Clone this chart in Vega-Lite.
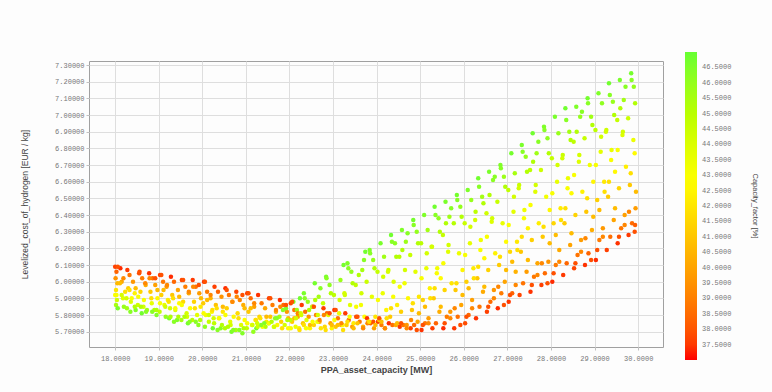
{
"$schema":"https://vega.github.io/schema/vega-lite/v6.json",
"width":574,"height":286,
"autosize":{"type":"none"},
"padding":{"left":89,"top":61,"right":109,"bottom":45},
"background":"#fdfdfd",
"config":{
 "view":{"stroke":"#a0a0a0","strokeWidth":1},
 "axis":{"gridColor":"#dedede","gridWidth":1,"domain":false,"tickColor":"#c0c0c0","tickSize":3,"labelFont":"Liberation Mono","labelFontSize":7,"labelColor":"#777777","titleFont":"Liberation Sans","titleColor":"#444444"}
},
"data":{"values":[
{"x":18.00,"y":6.09,"c":37.6},{"x":18.03,"y":6.06,"c":38.3},{"x":18.01,"y":6.02,"c":39.5},{"x":18.05,"y":5.99,"c":40.6},{"x":18.02,"y":5.95,"c":41.9},{"x":18.00,"y":5.92,"c":43.0},{"x":18.04,"y":5.89,"c":44.3},{"x":18.02,"y":5.86,"c":45.5},{"x":18.06,"y":5.84,"c":46.6},{"x":18.12,"y":6.08,"c":37.3},{"x":18.15,"y":6.00,"c":40.1},{"x":18.18,"y":5.90,"c":43.8},{"x":18.20,"y":5.85,"c":45.9},
{"x":18.28,"y":6.07,"c":37.5},{"x":18.33,"y":6.04,"c":38.7},{"x":18.41,"y":6.00,"c":39.6},{"x":18.30,"y":5.96,"c":41.2},{"x":18.45,"y":5.93,"c":42.4},{"x":18.36,"y":5.88,"c":44.0},{"x":18.27,"y":5.84,"c":45.7},{"x":18.47,"y":5.83,"c":46.5},
{"x":18.55,"y":6.05,"c":37.8},{"x":18.62,"y":6.02,"c":38.9},{"x":18.70,"y":5.98,"c":40.3},{"x":18.58,"y":5.94,"c":41.5},{"x":18.66,"y":5.89,"c":43.1},{"x":18.52,"y":5.86,"c":44.4},{"x":18.73,"y":5.83,"c":45.6},{"x":18.61,"y":5.81,"c":46.8},
{"x":18.78,"y":6.05,"c":37.4},{"x":18.86,"y":6.02,"c":38.5},{"x":18.92,"y":5.98,"c":39.9},{"x":18.81,"y":5.94,"c":41.1},{"x":18.97,"y":5.90,"c":42.6},{"x":18.84,"y":5.87,"c":43.6},{"x":18.90,"y":5.83,"c":45.1},{"x":18.95,"y":5.80,"c":46.4},
{"x":19.03,"y":6.04,"c":37.6},{"x":19.10,"y":6.00,"c":38.8},{"x":19.18,"y":5.97,"c":39.7},{"x":19.06,"y":5.92,"c":41.3},{"x":19.21,"y":5.89,"c":42.3},{"x":19.13,"y":5.86,"c":43.5},{"x":19.02,"y":5.82,"c":44.8},{"x":19.16,"y":5.79,"c":46.0},{"x":19.24,"y":5.78,"c":46.6},
{"x":19.28,"y":6.03,"c":37.3},{"x":19.35,"y":6.00,"c":38.4},{"x":19.44,"y":5.95,"c":40.0},{"x":19.31,"y":5.92,"c":41.0},{"x":19.47,"y":5.87,"c":42.7},{"x":19.38,"y":5.83,"c":43.9},{"x":19.27,"y":5.79,"c":45.3},{"x":19.42,"y":5.77,"c":46.5},
{"x":19.53,"y":6.01,"c":37.7},{"x":19.61,"y":5.97,"c":39.0},{"x":19.69,"y":5.93,"c":40.2},{"x":19.56,"y":5.88,"c":41.6},{"x":19.72,"y":5.84,"c":42.9},{"x":19.64,"y":5.81,"c":44.2},{"x":19.52,"y":5.77,"c":45.5},{"x":19.67,"y":5.75,"c":46.7},
{"x":19.78,"y":6.01,"c":37.5},{"x":19.85,"y":5.97,"c":38.6},{"x":19.93,"y":5.93,"c":39.8},{"x":19.81,"y":5.88,"c":41.4},{"x":19.96,"y":5.85,"c":42.2},{"x":19.88,"y":5.80,"c":43.7},{"x":19.77,"y":5.77,"c":45.0},{"x":19.91,"y":5.74,"c":46.2},
{"x":20.04,"y":6.00,"c":37.4},{"x":20.11,"y":5.94,"c":38.9},{"x":20.19,"y":5.90,"c":40.4},{"x":20.02,"y":5.87,"c":41.2},{"x":20.22,"y":5.82,"c":42.5},{"x":20.08,"y":5.80,"c":43.3},{"x":20.15,"y":5.76,"c":44.7},{"x":20.06,"y":5.73,"c":46.1},{"x":20.24,"y":5.72,"c":46.8},
{"x":20.28,"y":5.97,"c":37.6},{"x":20.36,"y":5.94,"c":38.3},{"x":20.44,"y":5.91,"c":39.5},{"x":20.31,"y":5.86,"c":40.9},{"x":20.47,"y":5.82,"c":42.0},{"x":20.39,"y":5.78,"c":43.5},{"x":20.27,"y":5.75,"c":44.9},{"x":20.42,"y":5.72,"c":46.3},
{"x":20.53,"y":5.96,"c":37.3},{"x":20.61,"y":5.92,"c":38.7},{"x":20.69,"y":5.88,"c":40.0},{"x":20.56,"y":5.84,"c":41.3},{"x":20.72,"y":5.79,"c":42.6},{"x":20.64,"y":5.76,"c":43.8},{"x":20.52,"y":5.72,"c":45.2},{"x":20.67,"y":5.70,"c":46.6},
{"x":20.78,"y":5.94,"c":37.7},{"x":20.86,"y":5.89,"c":39.1},{"x":20.94,"y":5.86,"c":40.3},{"x":20.81,"y":5.81,"c":41.7},{"x":20.97,"y":5.77,"c":42.8},{"x":20.89,"y":5.74,"c":44.0},{"x":20.77,"y":5.71,"c":45.4},{"x":20.92,"y":5.69,"c":46.4},
{"x":21.03,"y":5.93,"c":37.5},{"x":21.11,"y":5.90,"c":38.5},{"x":21.19,"y":5.85,"c":39.9},{"x":21.06,"y":5.82,"c":41.1},{"x":21.22,"y":5.77,"c":42.4},{"x":21.14,"y":5.74,"c":43.6},{"x":21.02,"y":5.72,"c":44.8},{"x":21.17,"y":5.70,"c":46.0},{"x":21.24,"y":5.72,"c":46.7},
{"x":21.28,"y":5.92,"c":37.4},{"x":21.36,"y":5.87,"c":38.8},{"x":21.44,"y":5.84,"c":40.1},{"x":21.31,"y":5.79,"c":41.5},{"x":21.47,"y":5.76,"c":42.1},{"x":21.39,"y":5.74,"c":43.2},{"x":21.27,"y":5.73,"c":44.5},{"x":21.42,"y":5.75,"c":46.5},
{"x":21.53,"y":5.90,"c":37.6},{"x":21.61,"y":5.86,"c":38.9},{"x":21.69,"y":5.82,"c":40.4},{"x":21.56,"y":5.79,"c":41.0},{"x":21.72,"y":5.74,"c":42.5},{"x":21.64,"y":5.73,"c":43.7},{"x":21.52,"y":5.75,"c":45.3},{"x":21.67,"y":5.78,"c":46.2},
{"x":21.78,"y":5.89,"c":37.3},{"x":21.86,"y":5.86,"c":38.4},{"x":21.94,"y":5.82,"c":39.7},{"x":21.81,"y":5.76,"c":41.4},{"x":21.97,"y":5.72,"c":42.7},{"x":21.89,"y":5.74,"c":44.1},{"x":21.77,"y":5.79,"c":45.6},{"x":21.92,"y":5.84,"c":46.6},
{"x":22.03,"y":5.87,"c":37.7},{"x":22.11,"y":5.83,"c":38.8},{"x":22.19,"y":5.79,"c":40.0},{"x":22.06,"y":5.76,"c":41.2},{"x":22.22,"y":5.72,"c":42.3},{"x":22.14,"y":5.73,"c":43.4},{"x":22.02,"y":5.77,"c":44.7},{"x":22.17,"y":5.83,"c":45.7},{"x":22.09,"y":5.88,"c":46.5},{"x":22.24,"y":5.90,"c":46.8},
{"x":22.28,"y":5.86,"c":37.5},{"x":22.36,"y":5.82,"c":38.6},{"x":22.44,"y":5.79,"c":39.6},{"x":22.31,"y":5.75,"c":41.0},{"x":22.47,"y":5.72,"c":42.6},{"x":22.39,"y":5.77,"c":43.9},{"x":22.27,"y":5.80,"c":44.4},{"x":22.42,"y":5.88,"c":45.9},{"x":22.33,"y":5.93,"c":46.6},
{"x":22.53,"y":5.85,"c":37.4},{"x":22.61,"y":5.80,"c":38.9},{"x":22.69,"y":5.76,"c":40.2},{"x":22.56,"y":5.74,"c":41.4},{"x":22.72,"y":5.72,"c":42.0},{"x":22.64,"y":5.76,"c":43.3},{"x":22.52,"y":5.85,"c":44.9},{"x":22.67,"y":5.91,"c":45.6},{"x":22.58,"y":5.99,"c":46.7},
{"x":22.78,"y":5.84,"c":37.6},{"x":22.86,"y":5.81,"c":38.3},{"x":22.94,"y":5.75,"c":39.9},{"x":22.81,"y":5.73,"c":41.6},{"x":22.97,"y":5.72,"c":42.4},{"x":22.89,"y":5.80,"c":43.7},{"x":22.77,"y":5.87,"c":44.6},{"x":22.92,"y":5.98,"c":46.1},{"x":22.84,"y":6.03,"c":46.6},
{"x":23.03,"y":5.83,"c":37.3},{"x":23.11,"y":5.78,"c":38.7},{"x":23.19,"y":5.74,"c":40.1},{"x":23.06,"y":5.73,"c":41.1},{"x":23.22,"y":5.74,"c":42.6},{"x":23.14,"y":5.81,"c":43.5},{"x":23.02,"y":5.92,"c":44.9},{"x":23.17,"y":6.01,"c":45.8},{"x":23.24,"y":6.10,"c":46.7},
{"x":23.28,"y":5.81,"c":37.5},{"x":23.36,"y":5.77,"c":38.5},{"x":23.44,"y":5.73,"c":39.7},{"x":23.31,"y":5.74,"c":41.3},{"x":23.47,"y":5.75,"c":42.2},{"x":23.39,"y":5.86,"c":43.8},{"x":23.27,"y":5.92,"c":44.3},{"x":23.42,"y":6.06,"c":46.0},{"x":23.33,"y":6.11,"c":46.5},
{"x":23.53,"y":5.79,"c":37.8},{"x":23.61,"y":5.76,"c":38.8},{"x":23.69,"y":5.73,"c":40.3},{"x":23.56,"y":5.75,"c":41.0},{"x":23.72,"y":5.79,"c":42.7},{"x":23.64,"y":5.86,"c":43.2},{"x":23.52,"y":5.98,"c":44.8},{"x":23.67,"y":6.07,"c":45.5},{"x":23.74,"y":6.18,"c":46.8},
{"x":23.78,"y":5.78,"c":37.4},{"x":23.86,"y":5.75,"c":38.4},{"x":23.94,"y":5.72,"c":39.9},{"x":23.81,"y":5.76,"c":41.5},{"x":23.97,"y":5.79,"c":42.0},{"x":23.89,"y":5.91,"c":43.6},{"x":23.77,"y":6.00,"c":44.5},{"x":23.92,"y":6.13,"c":45.9},{"x":23.84,"y":6.19,"c":46.5},
{"x":24.03,"y":5.76,"c":37.6},{"x":24.11,"y":5.74,"c":38.9},{"x":24.19,"y":5.72,"c":40.0},{"x":24.06,"y":5.77,"c":41.2},{"x":24.22,"y":5.83,"c":42.5},{"x":24.14,"y":5.93,"c":43.4},{"x":24.02,"y":6.06,"c":44.7},{"x":24.17,"y":6.15,"c":45.7},{"x":24.09,"y":6.23,"c":46.6},
{"x":24.28,"y":5.75,"c":37.3},{"x":24.36,"y":5.74,"c":38.6},{"x":24.44,"y":5.74,"c":40.2},{"x":24.31,"y":5.79,"c":41.1},{"x":24.47,"y":5.86,"c":42.3},{"x":24.39,"y":6.00,"c":43.9},{"x":24.27,"y":6.07,"c":44.4},{"x":24.42,"y":6.23,"c":46.2},{"x":24.33,"y":6.28,"c":46.8},
{"x":24.53,"y":5.73,"c":37.5},{"x":24.61,"y":5.74,"c":38.8},{"x":24.69,"y":5.74,"c":39.6},{"x":24.56,"y":5.82,"c":41.3},{"x":24.72,"y":5.90,"c":42.6},{"x":24.64,"y":5.99,"c":43.3},{"x":24.52,"y":6.15,"c":45.0},{"x":24.67,"y":6.24,"c":45.8},{"x":24.58,"y":6.31,"c":46.5},
{"x":24.78,"y":5.72,"c":37.7},{"x":24.86,"y":5.74,"c":38.5},{"x":24.94,"y":5.76,"c":40.1},{"x":24.81,"y":5.83,"c":41.0},{"x":24.97,"y":5.91,"c":42.1},{"x":24.89,"y":6.06,"c":43.7},{"x":24.77,"y":6.16,"c":44.6},{"x":24.92,"y":6.30,"c":46.0},{"x":24.84,"y":6.37,"c":46.7},
{"x":25.03,"y":5.71,"c":37.4},{"x":25.11,"y":5.75,"c":38.7},{"x":25.19,"y":5.78,"c":39.8},{"x":25.06,"y":5.89,"c":41.4},{"x":25.22,"y":5.96,"c":42.4},{"x":25.14,"y":6.08,"c":43.5},{"x":25.02,"y":6.23,"c":44.9},{"x":25.17,"y":6.31,"c":45.6},{"x":25.09,"y":6.40,"c":46.5},
{"x":25.28,"y":5.72,"c":37.6},{"x":25.36,"y":5.75,"c":38.3},{"x":25.44,"y":5.82,"c":40.3},{"x":25.31,"y":5.90,"c":41.2},{"x":25.47,"y":6.02,"c":42.7},{"x":25.39,"y":6.08,"c":43.2},{"x":25.27,"y":6.21,"c":44.4},{"x":25.42,"y":6.38,"c":46.1},{"x":25.33,"y":6.45,"c":46.8},
{"x":25.53,"y":5.72,"c":37.3},{"x":25.61,"y":5.79,"c":38.9},{"x":25.69,"y":5.82,"c":39.7},{"x":25.56,"y":5.95,"c":41.5},{"x":25.72,"y":5.99,"c":42.0},{"x":25.64,"y":6.18,"c":43.8},{"x":25.52,"y":6.28,"c":44.7},{"x":25.67,"y":6.39,"c":45.7},{"x":25.58,"y":6.48,"c":46.6},
{"x":25.78,"y":5.72,"c":37.5},{"x":25.86,"y":5.79,"c":38.6},{"x":25.94,"y":5.86,"c":40.0},{"x":25.81,"y":5.95,"c":41.1},{"x":25.97,"y":6.07,"c":42.5},{"x":25.89,"y":6.17,"c":43.4},{"x":25.77,"y":6.35,"c":45.1},{"x":25.92,"y":6.45,"c":46.0},{"x":25.84,"y":6.52,"c":46.7},
{"x":26.03,"y":5.75,"c":37.8},{"x":26.11,"y":5.80,"c":38.4},{"x":26.19,"y":5.89,"c":39.9},{"x":26.06,"y":6.00,"c":41.3},{"x":26.22,"y":6.08,"c":42.2},{"x":26.14,"y":6.23,"c":43.6},{"x":26.02,"y":6.35,"c":44.5},{"x":26.17,"y":6.49,"c":45.9},{"x":26.09,"y":6.55,"c":46.5},
{"x":26.28,"y":5.78,"c":37.4},{"x":26.36,"y":5.85,"c":38.8},{"x":26.44,"y":5.94,"c":40.2},{"x":26.31,"y":6.02,"c":41.0},{"x":26.47,"y":6.14,"c":42.6},{"x":26.39,"y":6.25,"c":43.3},{"x":26.27,"y":6.42,"c":44.9},{"x":26.42,"y":6.51,"c":45.6},{"x":26.33,"y":6.62,"c":46.8},
{"x":26.53,"y":5.82,"c":37.6},{"x":26.61,"y":5.88,"c":38.5},{"x":26.69,"y":5.95,"c":39.6},{"x":26.56,"y":6.07,"c":41.4},{"x":26.72,"y":6.17,"c":42.4},{"x":26.64,"y":6.36,"c":43.9},{"x":26.52,"y":6.41,"c":44.3},{"x":26.67,"y":6.61,"c":46.2},{"x":26.58,"y":6.66,"c":46.6},
{"x":26.78,"y":5.84,"c":37.3},{"x":26.86,"y":5.93,"c":38.9},{"x":26.94,"y":6.00,"c":40.0},{"x":26.81,"y":6.10,"c":41.2},{"x":26.97,"y":6.24,"c":42.7},{"x":26.89,"y":6.35,"c":43.5},{"x":26.77,"y":6.48,"c":44.6},{"x":26.92,"y":6.63,"c":45.8},{"x":26.84,"y":6.70,"c":46.5},
{"x":27.03,"y":5.88,"c":37.5},{"x":27.11,"y":5.93,"c":38.3},{"x":27.19,"y":6.06,"c":40.4},{"x":27.06,"y":6.18,"c":41.6},{"x":27.22,"y":6.24,"c":42.1},{"x":27.14,"y":6.42,"c":43.7},{"x":27.02,"y":6.55,"c":44.8},{"x":27.17,"y":6.65,"c":45.5},{"x":27.09,"y":6.77,"c":46.7},
{"x":27.28,"y":5.92,"c":37.7},{"x":27.36,"y":5.99,"c":38.7},{"x":27.44,"y":6.06,"c":39.8},{"x":27.31,"y":6.18,"c":41.0},{"x":27.47,"y":6.32,"c":42.5},{"x":27.39,"y":6.43,"c":43.3},{"x":27.27,"y":6.58,"c":44.5},{"x":27.42,"y":6.75,"c":46.0},{"x":27.33,"y":6.82,"c":46.6},
{"x":27.53,"y":5.94,"c":37.4},{"x":27.61,"y":6.03,"c":38.8},{"x":27.69,"y":6.11,"c":40.1},{"x":27.56,"y":6.25,"c":41.3},{"x":27.72,"y":6.35,"c":42.3},{"x":27.64,"y":6.54,"c":43.8},{"x":27.52,"y":6.67,"c":44.9},{"x":27.67,"y":6.77,"c":45.7},{"x":27.58,"y":6.89,"c":46.8},
{"x":27.78,"y":5.98,"c":37.6},{"x":27.86,"y":6.05,"c":38.5},{"x":27.94,"y":6.12,"c":39.6},{"x":27.81,"y":6.27,"c":41.1},{"x":27.97,"y":6.43,"c":42.6},{"x":27.89,"y":6.51,"c":43.2},{"x":27.77,"y":6.67,"c":44.4},{"x":27.92,"y":6.86,"c":46.1},{"x":27.84,"y":6.93,"c":46.5},
{"x":28.03,"y":6.00,"c":37.3},{"x":28.11,"y":6.10,"c":38.9},{"x":28.19,"y":6.19,"c":40.2},{"x":28.06,"y":6.35,"c":41.5},{"x":28.22,"y":6.44,"c":42.2},{"x":28.14,"y":6.60,"c":43.6},{"x":28.02,"y":6.74,"c":44.7},{"x":28.17,"y":6.89,"c":45.9},{"x":28.09,"y":6.99,"c":46.6},
{"x":28.28,"y":6.04,"c":37.5},{"x":28.36,"y":6.11,"c":38.4},{"x":28.44,"y":6.22,"c":40.0},{"x":28.31,"y":6.35,"c":41.2},{"x":28.47,"y":6.53,"c":42.7},{"x":28.39,"y":6.62,"c":43.4},{"x":28.27,"y":6.76,"c":44.5},{"x":28.42,"y":6.90,"c":45.6},{"x":28.33,"y":7.04,"c":46.8},
{"x":28.53,"y":6.08,"c":37.7},{"x":28.61,"y":6.16,"c":38.7},{"x":28.69,"y":6.25,"c":39.8},{"x":28.56,"y":6.40,"c":41.4},{"x":28.72,"y":6.54,"c":42.4},{"x":28.64,"y":6.72,"c":43.9},{"x":28.52,"y":6.84,"c":44.8},{"x":28.67,"y":6.99,"c":46.0},{"x":28.58,"y":7.05,"c":46.5},
{"x":28.78,"y":6.10,"c":37.4},{"x":28.86,"y":6.17,"c":38.3},{"x":28.94,"y":6.31,"c":40.3},{"x":28.81,"y":6.42,"c":41.0},{"x":28.97,"y":6.60,"c":42.5},{"x":28.89,"y":6.70,"c":43.3},{"x":28.77,"y":6.86,"c":44.6},{"x":28.92,"y":6.99,"c":45.7},{"x":28.84,"y":7.10,"c":46.7},
{"x":29.03,"y":6.13,"c":37.3},{"x":29.11,"y":6.25,"c":38.9},{"x":29.19,"y":6.32,"c":39.7},{"x":29.06,"y":6.49,"c":41.3},{"x":29.22,"y":6.60,"c":42.1},{"x":29.14,"y":6.78,"c":43.7},{"x":29.02,"y":6.91,"c":44.9},{"x":29.17,"y":7.07,"c":46.1},{"x":29.09,"y":7.13,"c":46.5},
{"x":29.28,"y":6.19,"c":37.6},{"x":29.36,"y":6.27,"c":38.6},{"x":29.44,"y":6.37,"c":40.0},{"x":29.31,"y":6.51,"c":41.2},{"x":29.47,"y":6.66,"c":42.6},{"x":29.39,"y":6.79,"c":43.5},{"x":29.27,"y":6.91,"c":44.4},{"x":29.42,"y":7.08,"c":45.9},{"x":29.33,"y":7.19,"c":46.8},
{"x":29.53,"y":6.23,"c":37.4},{"x":29.61,"y":6.32,"c":38.8},{"x":29.69,"y":6.40,"c":39.9},{"x":29.56,"y":6.56,"c":41.5},{"x":29.72,"y":6.69,"c":42.3},{"x":29.64,"y":6.88,"c":43.9},{"x":29.52,"y":6.97,"c":44.7},{"x":29.67,"y":7.09,"c":45.6},{"x":29.58,"y":7.21,"c":46.6},
{"x":29.78,"y":6.28,"c":37.5},{"x":29.86,"y":6.35,"c":38.5},{"x":29.94,"y":6.44,"c":39.8},{"x":29.81,"y":6.58,"c":41.1},{"x":29.92,"y":6.77,"c":42.7},{"x":29.89,"y":6.85,"c":43.4},{"x":29.77,"y":6.98,"c":44.5},{"x":29.90,"y":7.17,"c":46.0},{"x":29.84,"y":7.25,"c":46.7},{"x":29.93,"y":6.34,"c":38.2},
{"x":18.06,"y":6.09,"c":37.9},{"x":18.19,"y":6.02,"c":39.2},{"x":18.11,"y":5.99,"c":40.7},{"x":18.23,"y":5.94,"c":41.8},{"x":18.03,"y":5.92,"c":43.0},{"x":18.15,"y":5.92,"c":44.2},
{"x":18.47,"y":5.96,"c":40.7},{"x":18.33,"y":5.95,"c":41.8},{"x":18.38,"y":5.90,"c":43.0},{"x":18.26,"y":5.90,"c":44.2},{"x":18.45,"y":5.85,"c":45.2},{"x":18.35,"y":5.82,"c":46.3},
{"x":18.56,"y":6.06,"c":37.9},{"x":18.69,"y":5.99,"c":39.2},{"x":18.53,"y":5.91,"c":43.0},{"x":18.65,"y":5.85,"c":44.2},{"x":18.59,"y":5.85,"c":45.2},{"x":18.71,"y":5.82,"c":46.3},
{"x":18.92,"y":6.02,"c":37.9},{"x":18.79,"y":6.02,"c":39.2},{"x":18.97,"y":5.95,"c":40.7},{"x":18.83,"y":5.90,"c":41.8},{"x":18.95,"y":5.83,"c":45.2},{"x":18.85,"y":5.82,"c":46.3},
{"x":19.06,"y":6.04,"c":37.9},{"x":19.19,"y":5.98,"c":39.2},{"x":19.11,"y":5.95,"c":40.7},{"x":19.23,"y":5.88,"c":41.8},{"x":19.03,"y":5.87,"c":43.0},{"x":19.15,"y":5.85,"c":44.2},
{"x":19.47,"y":5.91,"c":40.7},{"x":19.33,"y":5.90,"c":41.8},{"x":19.38,"y":5.84,"c":43.0},{"x":19.26,"y":5.84,"c":44.2},{"x":19.45,"y":5.79,"c":45.2},{"x":19.35,"y":5.76,"c":46.3},
{"x":19.56,"y":6.01,"c":37.9},{"x":19.69,"y":5.94,"c":39.2},{"x":19.53,"y":5.86,"c":43.0},{"x":19.65,"y":5.79,"c":44.2},{"x":19.59,"y":5.79,"c":45.2},{"x":19.71,"y":5.76,"c":46.3},
{"x":19.92,"y":5.98,"c":37.9},{"x":19.79,"y":5.97,"c":39.2},{"x":19.97,"y":5.90,"c":40.7},{"x":19.83,"y":5.84,"c":41.8},{"x":19.95,"y":5.77,"c":45.2},{"x":19.85,"y":5.76,"c":46.3},
{"x":20.06,"y":6.00,"c":37.9},{"x":20.19,"y":5.92,"c":39.2},{"x":20.11,"y":5.89,"c":40.7},{"x":20.23,"y":5.83,"c":41.8},{"x":20.03,"y":5.81,"c":43.0},{"x":20.15,"y":5.80,"c":44.2},
{"x":20.47,"y":5.85,"c":40.7},{"x":20.33,"y":5.84,"c":41.8},{"x":20.38,"y":5.78,"c":43.0},{"x":20.26,"y":5.78,"c":44.2},{"x":20.45,"y":5.74,"c":45.2},{"x":20.35,"y":5.71,"c":46.3},
{"x":20.56,"y":5.95,"c":37.9},{"x":20.69,"y":5.88,"c":39.2},{"x":20.53,"y":5.80,"c":43.0},{"x":20.65,"y":5.74,"c":44.2},{"x":20.59,"y":5.73,"c":45.2},{"x":20.71,"y":5.71,"c":46.3},
{"x":20.92,"y":5.92,"c":37.9},{"x":20.79,"y":5.91,"c":39.2},{"x":20.97,"y":5.84,"c":40.7},{"x":20.83,"y":5.78,"c":41.8},{"x":20.95,"y":5.72,"c":45.2},{"x":20.85,"y":5.71,"c":46.3},
{"x":21.06,"y":5.93,"c":37.9},{"x":21.19,"y":5.87,"c":39.2},{"x":21.11,"y":5.84,"c":40.7},{"x":21.23,"y":5.77,"c":41.8},{"x":21.03,"y":5.75,"c":43.0},{"x":21.15,"y":5.74,"c":44.2},
{"x":21.47,"y":5.79,"c":40.7},{"x":21.33,"y":5.78,"c":41.8},{"x":21.38,"y":5.73,"c":43.0},{"x":21.26,"y":5.75,"c":44.2},{"x":21.45,"y":5.73,"c":45.2},{"x":21.35,"y":5.74,"c":46.3},
{"x":21.56,"y":5.90,"c":37.9},{"x":21.69,"y":5.83,"c":39.2},{"x":21.53,"y":5.75,"c":43.0},{"x":21.65,"y":5.73,"c":44.2},{"x":21.59,"y":5.76,"c":45.2},{"x":21.71,"y":5.78,"c":46.3},
{"x":21.92,"y":5.86,"c":37.9},{"x":21.79,"y":5.85,"c":39.2},{"x":21.97,"y":5.78,"c":40.7},{"x":21.83,"y":5.72,"c":41.8},{"x":21.95,"y":5.77,"c":45.2},{"x":21.85,"y":5.83,"c":46.3},
{"x":22.06,"y":5.88,"c":37.9},{"x":22.19,"y":5.81,"c":39.2},{"x":22.11,"y":5.78,"c":40.7},{"x":22.23,"y":5.71,"c":41.8},{"x":22.03,"y":5.72,"c":43.0},{"x":22.15,"y":5.78,"c":44.2},
{"x":22.47,"y":5.74,"c":40.7},{"x":22.33,"y":5.74,"c":41.8},{"x":22.38,"y":5.72,"c":43.0},{"x":22.26,"y":5.81,"c":44.2},{"x":22.45,"y":5.83,"c":45.2},{"x":22.35,"y":5.90,"c":46.3},
{"x":22.56,"y":5.85,"c":37.9},{"x":22.69,"y":5.77,"c":39.2},{"x":22.53,"y":5.76,"c":43.0},{"x":22.65,"y":5.80,"c":44.2},{"x":22.59,"y":5.89,"c":45.2},{"x":22.71,"y":5.96,"c":46.3},
{"x":22.92,"y":5.81,"c":37.9},{"x":22.79,"y":5.80,"c":39.2},{"x":22.97,"y":5.74,"c":40.7},{"x":22.83,"y":5.71,"c":41.8},{"x":22.95,"y":5.93,"c":45.2},{"x":22.85,"y":6.02,"c":46.3},
{"x":23.06,"y":5.83,"c":37.9},{"x":23.19,"y":5.75,"c":39.2},{"x":23.11,"y":5.74,"c":40.7},{"x":23.23,"y":5.71,"c":41.8},{"x":23.03,"y":5.77,"c":43.0},{"x":23.15,"y":5.89,"c":44.2},
{"x":23.47,"y":5.72,"c":40.7},{"x":23.33,"y":5.76,"c":41.8},{"x":23.38,"y":5.79,"c":43.0},{"x":23.26,"y":5.93,"c":44.2},{"x":23.45,"y":5.99,"c":45.2},{"x":23.35,"y":6.08,"c":46.3},
{"x":23.56,"y":5.79,"c":37.9},{"x":23.69,"y":5.72,"c":39.2},{"x":23.53,"y":5.85,"c":43.0},{"x":23.65,"y":5.93,"c":44.2},{"x":23.59,"y":6.04,"c":45.2},{"x":23.71,"y":6.13,"c":46.3},
{"x":23.92,"y":5.76,"c":37.9},{"x":23.79,"y":5.75,"c":39.2},{"x":23.97,"y":5.74,"c":40.7},{"x":23.83,"y":5.76,"c":41.8},{"x":23.95,"y":6.08,"c":45.2},{"x":23.85,"y":6.17,"c":46.3},
{"x":24.06,"y":5.78,"c":37.9},{"x":24.19,"y":5.72,"c":39.2},{"x":24.11,"y":5.76,"c":40.7},{"x":24.23,"y":5.78,"c":41.8},{"x":24.03,"y":5.89,"c":43.0},{"x":24.15,"y":6.03,"c":44.2},
{"x":24.47,"y":5.75,"c":40.7},{"x":24.33,"y":5.84,"c":41.8},{"x":24.38,"y":5.91,"c":43.0},{"x":24.26,"y":6.06,"c":44.2},{"x":24.45,"y":6.15,"c":45.2},{"x":24.35,"y":6.24,"c":46.3},
{"x":24.56,"y":5.75,"c":37.9},{"x":24.69,"y":5.72,"c":39.2},{"x":24.53,"y":5.97,"c":43.0},{"x":24.65,"y":6.07,"c":44.2},{"x":24.59,"y":6.19,"c":45.2},{"x":24.71,"y":6.29,"c":46.3},
{"x":24.92,"y":5.71,"c":37.9},{"x":24.79,"y":5.77,"c":39.2},{"x":24.97,"y":5.81,"c":40.7},{"x":24.83,"y":5.87,"c":41.8},{"x":24.95,"y":6.23,"c":45.2},{"x":24.85,"y":6.34,"c":46.3},
{"x":25.06,"y":5.74,"c":37.9},{"x":25.19,"y":5.75,"c":39.2},{"x":25.11,"y":5.85,"c":40.7},{"x":25.23,"y":5.90,"c":41.8},{"x":25.03,"y":6.02,"c":43.0},{"x":25.15,"y":6.17,"c":44.2},
{"x":25.47,"y":5.85,"c":40.7},{"x":25.33,"y":5.96,"c":41.8},{"x":25.38,"y":6.05,"c":43.0},{"x":25.26,"y":6.21,"c":44.2},{"x":25.45,"y":6.30,"c":45.2},{"x":25.35,"y":6.40,"c":46.3},
{"x":25.56,"y":5.75,"c":37.9},{"x":25.69,"y":5.78,"c":39.2},{"x":25.53,"y":6.11,"c":43.0},{"x":25.65,"y":6.22,"c":44.2},{"x":25.59,"y":6.35,"c":45.2},{"x":25.71,"y":6.44,"c":46.3},
{"x":25.92,"y":5.74,"c":37.9},{"x":25.79,"y":5.84,"c":39.2},{"x":25.97,"y":5.92,"c":40.7},{"x":25.83,"y":5.99,"c":41.8},{"x":25.95,"y":6.39,"c":45.2},{"x":25.85,"y":6.49,"c":46.3},
{"x":26.06,"y":5.79,"c":37.9},{"x":26.19,"y":5.84,"c":39.2},{"x":26.11,"y":5.96,"c":40.7},{"x":26.23,"y":6.02,"c":41.8},{"x":26.03,"y":6.16,"c":43.0},{"x":26.15,"y":6.33,"c":44.2},
{"x":26.47,"y":5.97,"c":40.7},{"x":26.33,"y":6.09,"c":41.8},{"x":26.38,"y":6.19,"c":43.0},{"x":26.26,"y":6.37,"c":44.2},{"x":26.45,"y":6.47,"c":45.2},{"x":26.35,"y":6.57,"c":46.3},
{"x":26.56,"y":5.85,"c":37.9},{"x":26.69,"y":5.90,"c":39.2},{"x":26.53,"y":6.27,"c":43.0},{"x":26.65,"y":6.38,"c":44.2},{"x":26.59,"y":6.52,"c":45.2},{"x":26.71,"y":6.63,"c":46.3},
{"x":26.92,"y":5.86,"c":37.9},{"x":26.79,"y":5.97,"c":39.2},{"x":26.97,"y":6.07,"c":40.7},{"x":26.83,"y":6.15,"c":41.8},{"x":26.95,"y":6.57,"c":45.2},{"x":26.85,"y":6.68,"c":46.3},
{"x":27.06,"y":5.92,"c":37.9},{"x":27.19,"y":5.98,"c":39.2},{"x":27.11,"y":6.12,"c":40.7},{"x":27.23,"y":6.19,"c":41.8},{"x":27.03,"y":6.34,"c":43.0},{"x":27.15,"y":6.51,"c":44.2},
{"x":27.47,"y":6.13,"c":40.7},{"x":27.33,"y":6.27,"c":41.8},{"x":27.38,"y":6.38,"c":43.0},{"x":27.26,"y":6.56,"c":44.2},{"x":27.45,"y":6.66,"c":45.2},{"x":27.35,"y":6.78,"c":46.3},
{"x":27.56,"y":5.98,"c":37.9},{"x":27.69,"y":6.04,"c":39.2},{"x":27.53,"y":6.46,"c":43.0},{"x":27.65,"y":6.58,"c":44.2},{"x":27.59,"y":6.72,"c":45.2},{"x":27.71,"y":6.84,"c":46.3},
{"x":27.92,"y":5.99,"c":37.9},{"x":27.79,"y":6.11,"c":39.2},{"x":27.97,"y":6.23,"c":40.7},{"x":27.83,"y":6.33,"c":41.8},{"x":27.95,"y":6.77,"c":45.2},{"x":27.85,"y":6.91,"c":46.3},
{"x":28.06,"y":6.05,"c":37.9},{"x":28.19,"y":6.12,"c":39.2},{"x":28.11,"y":6.28,"c":40.7},{"x":28.23,"y":6.37,"c":41.8},{"x":28.03,"y":6.53,"c":43.0},{"x":28.15,"y":6.70,"c":44.2},
{"x":28.47,"y":6.29,"c":40.7},{"x":28.33,"y":6.44,"c":41.8},{"x":28.38,"y":6.56,"c":43.0},{"x":28.26,"y":6.74,"c":44.2},{"x":28.45,"y":6.85,"c":45.2},{"x":28.35,"y":6.97,"c":46.3},
{"x":28.56,"y":6.11,"c":37.9},{"x":28.69,"y":6.18,"c":39.2},{"x":28.53,"y":6.64,"c":43.0},{"x":28.65,"y":6.76,"c":44.2},{"x":28.59,"y":6.90,"c":45.2},{"x":28.71,"y":7.02,"c":46.3},
{"x":28.92,"y":6.13,"c":37.9},{"x":28.79,"y":6.26,"c":39.2},{"x":28.97,"y":6.39,"c":40.7},{"x":28.83,"y":6.50,"c":41.8},{"x":28.95,"y":6.94,"c":45.2},{"x":28.85,"y":7.07,"c":46.3},
{"x":29.06,"y":6.19,"c":37.9},{"x":29.19,"y":6.27,"c":39.2},{"x":29.11,"y":6.43,"c":40.7},{"x":29.23,"y":6.54,"c":41.8},{"x":29.03,"y":6.70,"c":43.0},{"x":29.15,"y":6.87,"c":44.2},
{"x":29.47,"y":6.44,"c":40.7},{"x":29.33,"y":6.60,"c":41.8},{"x":29.38,"y":6.73,"c":43.0},{"x":29.26,"y":6.90,"c":44.2},{"x":29.45,"y":7.00,"c":45.2},{"x":29.35,"y":7.12,"c":46.3},
{"x":29.56,"y":6.27,"c":37.9},{"x":29.69,"y":6.34,"c":39.2},{"x":29.53,"y":6.79,"c":43.0},{"x":29.65,"y":6.90,"c":44.2},{"x":29.59,"y":7.04,"c":45.2},{"x":29.71,"y":7.17,"c":46.3},
{"x":29.92,"y":6.30,"c":37.9},{"x":29.79,"y":6.42,"c":39.2},{"x":29.95,"y":6.54,"c":40.7},{"x":29.83,"y":6.65,"c":41.8},{"x":29.93,"y":7.07,"c":45.2},{"x":29.85,"y":7.21,"c":46.3}
]},
"mark":{"type":"circle","size":20,"opacity":1},
"encoding":{
 "x":{"field":"x","type":"quantitative","scale":{"domain":[17.4,30.57],"nice":false,"zero":false},
  "axis":{"title":"PPA_asset_capacity [MW]","values":[18,19,20,21,22,23,24,25,26,27,28,29,30],"format":".4f","labelPadding":4,"titlePadding":4,"titleFontSize":9,"titleFontWeight":600}},
 "y":{"field":"y","type":"quantitative","scale":{"domain":[5.608,7.324],"nice":false,"zero":false},
  "axis":{"title":"Levelized_cost_of_hydrogen [EUR / kg]","values":[5.7,5.8,5.9,6.0,6.1,6.2,6.3,6.4,6.5,6.6,6.7,6.8,6.9,7.0,7.1,7.2,7.3],"format":".5f","labelPadding":2,"titlePadding":25,"titleFontSize":8.5,"titleFontWeight":"normal"}},
 "color":{"field":"c","type":"quantitative","scale":{"domain":[37,42.8,47],"range":["#ff0000","#ffff00","#66ff33"]},
  "legend":{"orient":"none","legendX":596,"legendY":-9,"direction":"vertical","gradientLength":308,"gradientThickness":12,"gradientStrokeWidth":0,
   "values":[37.5,38,38.5,39,39.5,40,40.5,41,41.5,42,42.5,43,43.5,44,44.5,45,45.5,46,46.5],"format":".4f",
   "labelFont":"Liberation Mono","labelFontSize":7,"labelColor":"#777777","labelOffset":5,"labelOverlap":false,
   "title":"Capacity_factor [%]","titleOrient":"right","titleAnchor":"middle","titleFont":"Liberation Sans","titleFontSize":7.5,"titleFontWeight":"normal","titleColor":"#444444","titlePadding":20}}
}
}
